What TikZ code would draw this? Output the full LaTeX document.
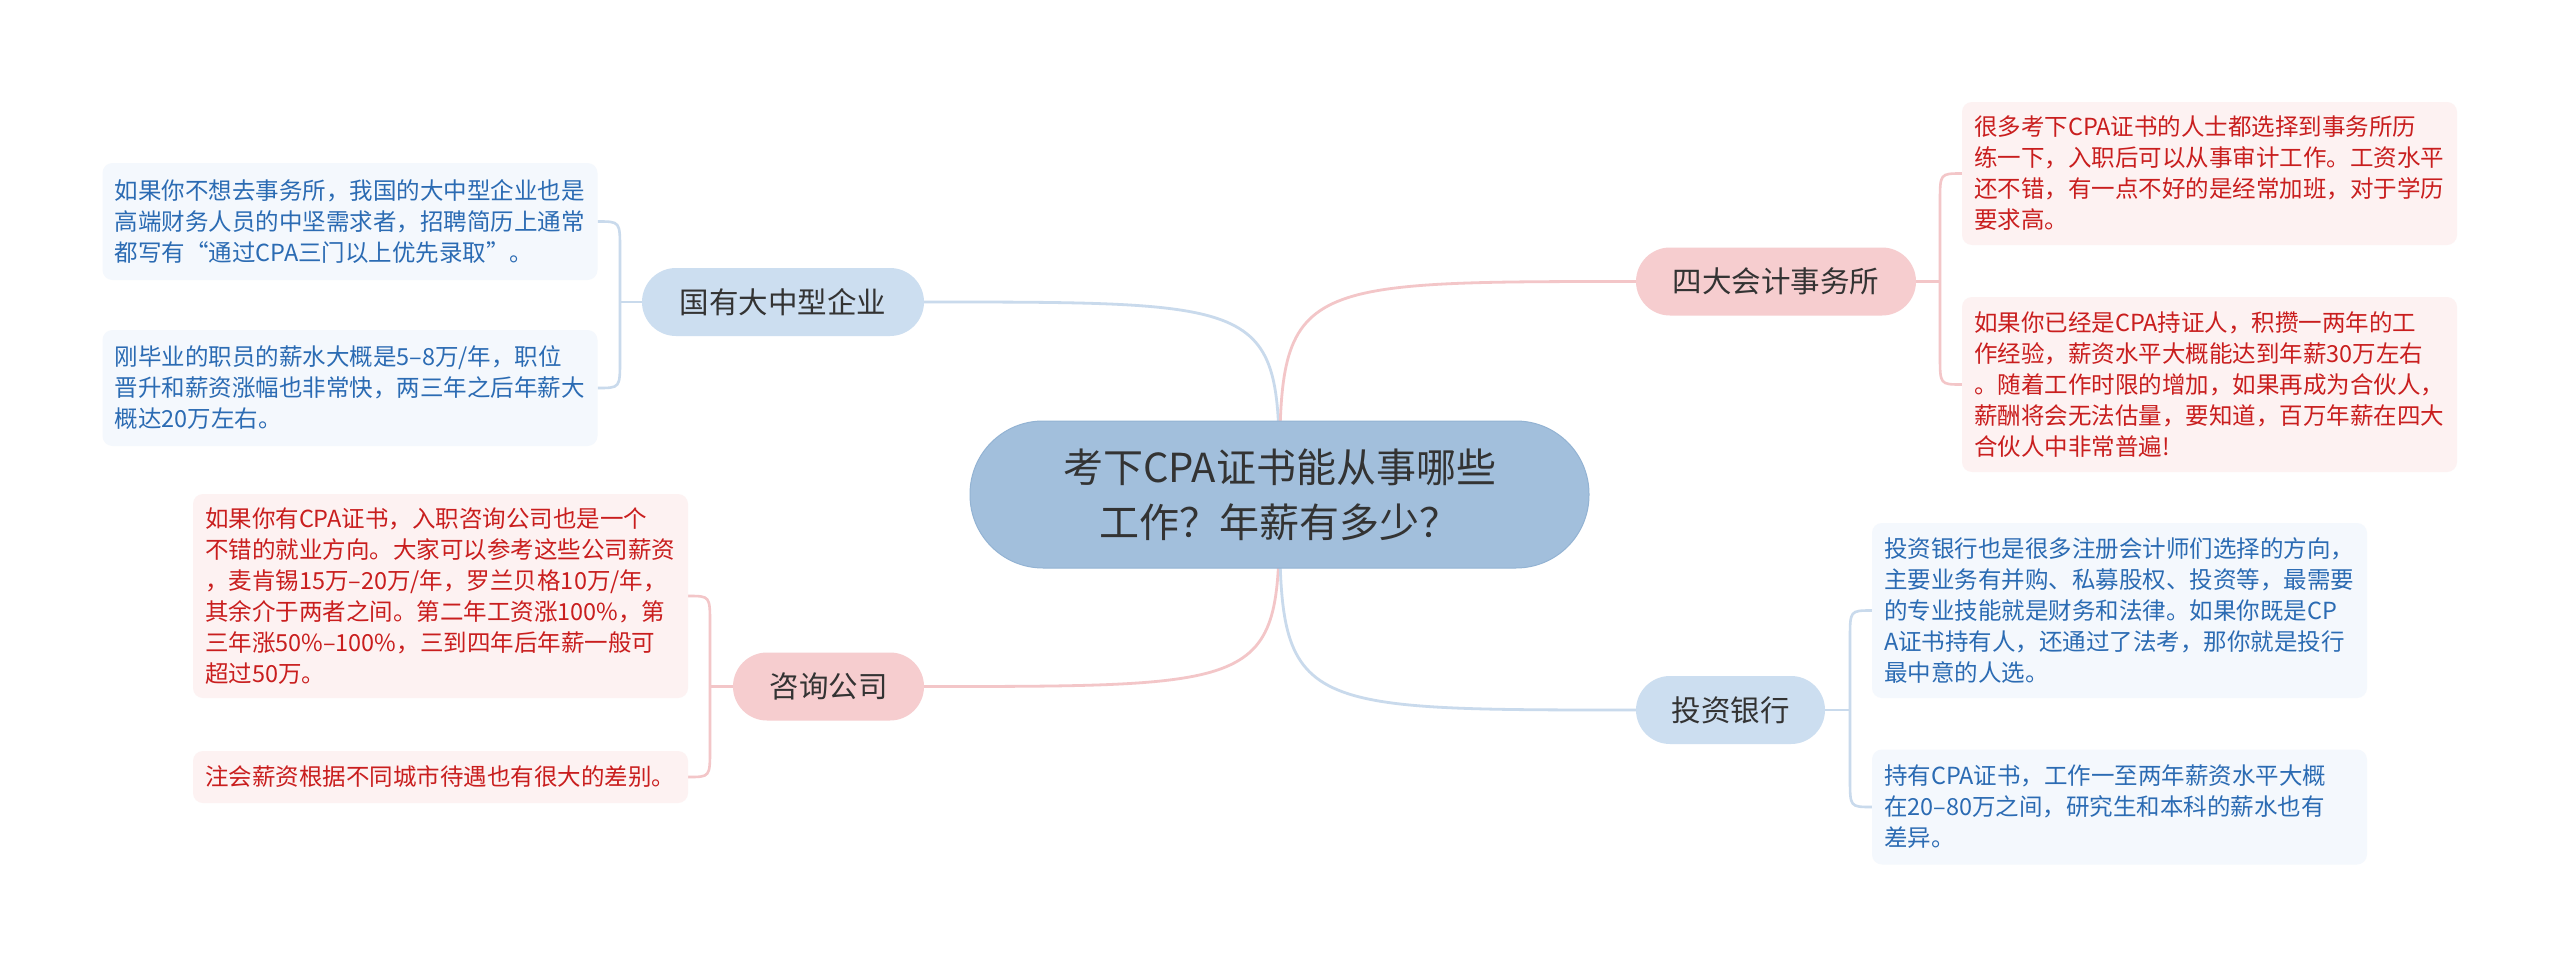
\documentclass[tikz,border=0pt]{standalone}
\usepackage{fontspec}
\setmainfont{Noto Sans CJK SC}
\usetikzlibrary{backgrounds,calc}
\definecolor{cfill}{HTML}{A2BFDC}
\definecolor{cdraw}{HTML}{93B3D3}
\definecolor{bfill}{HTML}{CCDEF0}
\definecolor{pfill}{HTML}{F6CDCF}
\definecolor{bline}{HTML}{C9DAEC}
\definecolor{pline}{HTML}{F3C6C8}
\definecolor{bleaf}{HTML}{F4F8FD}
\definecolor{pleaf}{HTML}{FDF2F2}
\definecolor{btext}{HTML}{2B6BB3}
\definecolor{ptext}{HTML}{C91E1E}
\definecolor{dtext}{HTML}{333333}
\begin{document}
\begin{tikzpicture}[x=1pt,y=-1pt,
  central/.style={fill=cfill, draw=cdraw, line width=1pt, rounded corners=73pt,
    minimum width=619pt, minimum height=147pt, inner sep=0pt, align=center,
    text=dtext, font=\fontsize{40}{55}\selectfont},
  branch/.style={rounded corners=34pt, minimum height=68pt, inner sep=0pt,
    text=dtext, font=\fontsize{29.5}{35}\selectfont},
  bbranch/.style={branch, fill=bfill},
  pbranch/.style={branch, fill=pfill},
  leaf/.style={rounded corners=10pt, text width=471pt, inner xsep=12pt,
    inner ysep=0pt, align=left, font=\fontsize{23.5}{31}\selectfont},
  bleafbox/.style={leaf, fill=bleaf, text=btext},
  pleafbox/.style={leaf, fill=pleaf, text=ptext},
  bconn/.style={draw=bline, line width=2.8pt},
  pconn/.style={draw=pline, line width=2.8pt},
  bbrack/.style={draw=bline, line width=2.6pt},
  pbrack/.style={draw=pline, line width=2.6pt}
]
\useasboundingbox (0,0) rectangle (2560,966);

% central
\node[central] (C) at (1279.5,494.5) {考下CPA证书能从事哪些\\工作？年薪有多少？};

% branches
\node[bbranch, minimum width=282pt] (G) at (783,302) {国有大中型企业};
\node[pbranch, minimum width=191pt] (Z) at (828.5,686.5) {咨询公司};
\node[pbranch, minimum width=280pt] (S) at (1776,281.5) {四大会计事务所};
\node[bbranch, minimum width=189pt] (T) at (1730.5,710) {投资银行};

% leaves
\node[bleafbox, minimum height=117pt] (G1) at (350,221.5) {如果你不想去事务所，我国的大中型企业也是\\高端财务人员的中坚需求者，招聘简历上通常\\都写有“通过CPA三门以上优先录取”。};
\node[bleafbox, minimum height=116pt] (G2) at (350,388) {刚毕业的职员的薪水大概是5–8万/年，职位\\晋升和薪资涨幅也非常快，两三年之后年薪大\\概达20万左右。};

\node[pleafbox, minimum height=204pt] (Z1) at (440.5,596) {如果你有CPA证书，入职咨询公司也是一个\\不错的就业方向。大家可以参考这些公司薪资\\，麦肯锡15万–20万/年，罗兰贝格10万/年，\\其余介于两者之间。第二年工资涨100\%，第\\三年涨50\%–100\%，三到四年后年薪一般可\\超过50万。};
\node[pleafbox, minimum height=52pt] (Z2) at (440.5,777) {注会薪资根据不同城市待遇也有很大的差别。};

\node[pleafbox, minimum height=143pt] (S1) at (2209.5,173.5) {很多考下CPA证书的人士都选择到事务所历\\练一下，入职后可以从事审计工作。工资水平\\还不错，有一点不好的是经常加班，对于学历\\要求高。};
\node[pleafbox, minimum height=175pt] (S2) at (2209.5,384.5) {如果你已经是CPA持证人，积攒一两年的工\\作经验，薪资水平大概能达到年薪30万左右\\。随着工作时限的增加，如果再成为合伙人，\\薪酬将会无法估量，要知道，百万年薪在四大\\合伙人中非常普遍!};

\node[bleafbox, minimum height=175pt] (T1) at (2119.5,610.5) {投资银行也是很多注册会计师们选择的方向，\\主要业务有并购、私募股权、投资等，最需要\\的专业技能就是财务和法律。如果你既是CP\\A证书持有人，还通过了法考，那你就是投行\\最中意的人选。};
\node[bleafbox, minimum height=115pt] (T2) at (2119.5,807) {持有CPA证书，工作一至两年薪资水平大概\\在20–80万之间，研究生和本科的薪水也有\\差异。};

% junctions
\coordinate (jG) at (620,302);
\coordinate (jZ) at (710,686.5);
\coordinate (jS) at (1940,281.5);
\coordinate (jT) at (1850,710);

\begin{pgfonlayer}{background}
\fill[white] (0,0) rectangle (2560,966);
% main connectors
\draw[bconn] (C.center) .. controls (C.center |- G.east) .. (G.east);
\draw[pconn] (C.center) .. controls (C.center |- Z.east) .. (Z.east);
\draw[pconn] (C.center) .. controls (C.center |- S.west) .. (S.west);
\draw[bconn] (C.center) .. controls (C.center |- T.west) .. (T.west);
% brackets
\draw[bbrack] (G.west) -- (jG);
\draw[bbrack] (G1.east) .. controls (jG |- G1.east) .. ($(jG |- G1.east)+(0,28)$)
  -- ($(jG |- G2.east)+(0,-28)$) .. controls (jG |- G2.east) .. (G2.east);
\draw[pbrack] (Z.west) -- (jZ);
\draw[pbrack] (Z1.east) .. controls (jZ |- Z1.east) .. ($(jZ |- Z1.east)+(0,28)$)
  -- ($(jZ |- Z2.east)+(0,-28)$) .. controls (jZ |- Z2.east) .. (Z2.east);
\draw[pbrack] (S.east) -- (jS);
\draw[pbrack] (S1.west) .. controls (jS |- S1.west) .. ($(jS |- S1.west)+(0,28)$)
  -- ($(jS |- S2.west)+(0,-28)$) .. controls (jS |- S2.west) .. (S2.west);
\draw[bbrack] (T.east) -- (jT);
\draw[bbrack] (T1.west) .. controls (jT |- T1.west) .. ($(jT |- T1.west)+(0,28)$)
  -- ($(jT |- T2.west)+(0,-28)$) .. controls (jT |- T2.west) .. (T2.west);
\end{pgfonlayer}
\end{tikzpicture}
\end{document}
